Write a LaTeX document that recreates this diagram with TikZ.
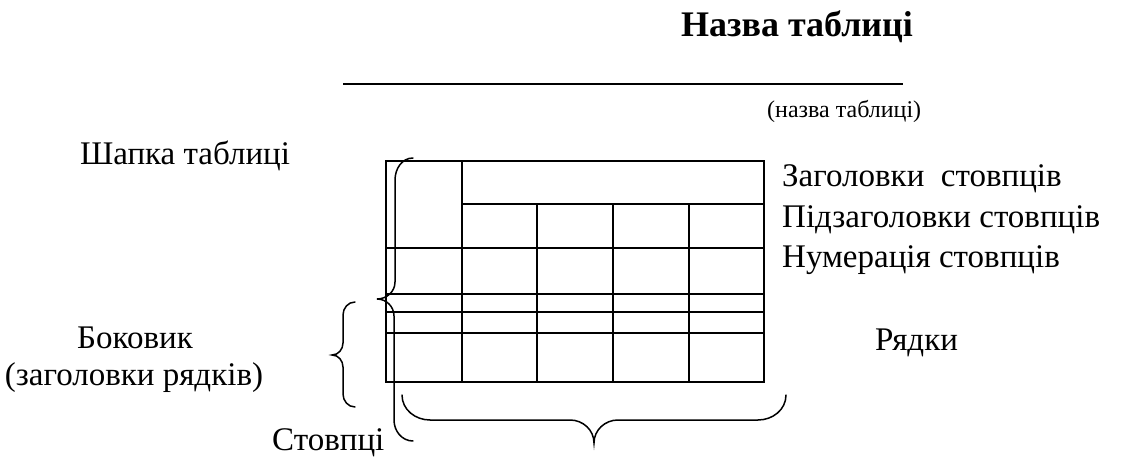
\documentclass[tikz,border=0pt]{standalone}
\usepackage{fontspec}
\setmainfont{Liberation Serif}
\begin{document}
\begin{tikzpicture}[x=1pt,y=-1pt,
  tbl/.style={line width=1.9pt},
  brc/.style={line width=1.5pt, line cap=round},
  lbl/.style={inner sep=0pt, anchor=base west, font=\fontsize{33}{40}\selectfont},
  lblc/.style={lbl, anchor=base}]
\useasboundingbox (0,0) rectangle (1141,457);
% title
\node[lblc, font=\fontsize{36}{42}\selectfont\bfseries] (title) at (797,37) {Назва таблиці};
\coordinate (ulA) at (343,84);
\coordinate (ulB) at (903,84);
\draw[line width=1.5pt] (ulA) -- (ulB);
\node[lbl, font=\fontsize{24}{28}\selectfont] (sub) at (767,118) {(назва таблиці)};
% left labels
\node[lblc] (shapka) at (185,165) {Шапка таблиці};
\node[lblc] (bokovyk) at (135,348) {Боковик};
\node[lblc] (zagr) at (134,385) {(заголовки рядків)};
\node[lbl] (stovp) at (272,450) {Стовпці};
% right labels
\node[lbl] (h1) at (782,187) {Заголовки\ \ стовпців};
\node[lbl] (h2) at (782,228) {Підзаголовки стовпців};
\node[lbl] (h3) at (782,268) {Нумерація стовпців};
\node[lbl] (ryadky) at (875,350) {Рядки};
% table
\draw[tbl] (386,161) rectangle (764,382);
\draw[tbl] (462,161) -- (462,382);
\foreach \x in {537,613,689} \draw[tbl] (\x,204) -- (\x,382);
\draw[tbl] (462,204) -- (764,204);
\foreach \y in {248,294,312,333} \draw[tbl] (386,\y) -- (764,\y);
% big left brace (header)
\draw[brc] (413,158) to[out=180,in=90] (395,180) -- (395,282)
  to[out=-90,in=0] (377,299) to[out=0,in=90] (394,316) -- (394,420)
  to[out=-90,in=180] (413,441);
% bokovyk brace
\draw[brc] (355,302) to[out=180,in=90] (343,315) -- (343,343)
  to[out=-90,in=0] (332,355) to[out=0,in=90] (343,367) -- (343,394)
  to[out=-90,in=180] (355,407);
% bottom brace (columns)
\draw[brc] (402,395) to[out=-90,in=180] (430,420) -- (570,420)
  to[out=0,in=90] (594,443) to[out=90,in=180] (618,420) -- (758,420)
  to[out=0,in=-90] (786,395);
\end{tikzpicture}
\end{document}
